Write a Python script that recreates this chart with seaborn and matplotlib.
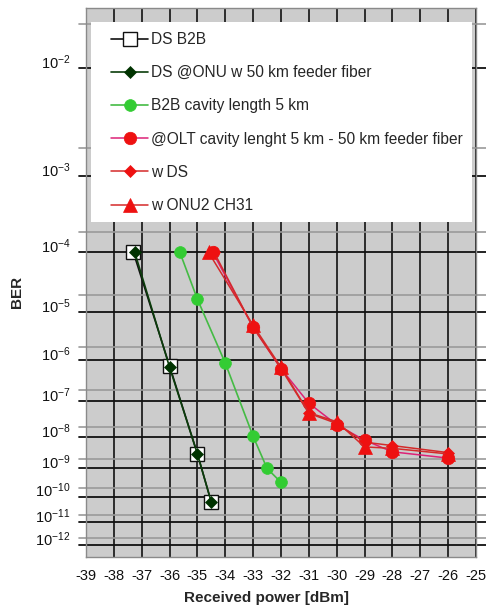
import numpy as np
import pandas as pd
import matplotlib
matplotlib.use("Agg")
import matplotlib.pyplot as plt
import matplotlib.transforms as mtransforms
from matplotlib.patches import Rectangle
import seaborn as sns

# ---------------- data ----------------
ds_b2b_x = [-37.3, -36.0, -35.0, -34.5]
ds_b2b_ber = [1e-4, 7.5e-7, 3.0e-9, 6e-11]

ds_onu_x = [-37.25, -36.0, -35.0, -34.5]
ds_onu_ber = [1e-4, 7.0e-7, 3.0e-9, 6e-11]

b2b_cav_x = [-35.63, -35.0, -34.0, -33.0, -32.5, -32.0]
b2b_cav_ber = [1e-4, 1.7e-5, 8.7e-7, 1.05e-8, 1.0e-9, 3.3e-10]

olt_x = [-34.45, -33.0, -32.0, -31.0, -30.0, -29.0, -28.0, -26.0]
olt_ber = [1e-4, 5.0e-6, 6.5e-7, 9.0e-8, 2.3e-8, 8.0e-9, 3.5e-9, 2.2e-9]

wds_x = [-34.4, -33.0, -32.0, -31.0, -30.0, -29.0, -28.0, -26.0]
wds_ber = [1e-4, 5.0e-6, 6.5e-7, 4.8e-8, 2.5e-8, 7.0e-9, 5.5e-9, 3.3e-9]

onu2_x = [-34.6, -33.0, -32.0, -31.0, -30.0, -29.0, -28.0, -26.0]
onu2_ber = [1e-4, 5.5e-6, 7.0e-7, 5.0e-8, 2.8e-8, 5.0e-9, 4.5e-9, 3.0e-9]

series_labels = [
    "DS B2B",
    "DS @ONU w 50 km feeder fiber",
    "B2B cavity length 5 km",
    "@OLT cavity lenght 5 km - 50 km feeder fiber",
    "w DS",
    "w ONU2 CH31",
]

x_ticks = list(range(-39, -24))
y_major_exp = list(range(2, 13))      # 10^-2 ... 10^-12
y_minor_exp = list(range(2, 13))      # 2x10^-2 ... 2x10^-12
y_minor_mant = 2

x_label = "Received power [dBm]"
y_label = "BER"

# ---------------- style ----------------
sns.set_style("white")
plt.rcParams["font.family"] = ["Liberation Sans", "DejaVu Sans"]
plt.rcParams["mathtext.fontset"] = "custom"
plt.rcParams["mathtext.rm"] = "Liberation Sans"
plt.rcParams["mathtext.it"] = "Liberation Sans:italic"
plt.rcParams["mathtext.bf"] = "Liberation Sans:bold"

fig = plt.figure(figsize=(4.86, 6.09), dpi=100)
ax = fig.add_axes([86 / 486, 1 - 557 / 609, 390 / 486, 549 / 609])
ax.set_facecolor("#cccccc")


def fwd(b):
    b = np.clip(np.asarray(b, dtype=float), 1e-300, 0.999999)
    return -np.log10(-np.log10(b))


def inv(y):
    return 10 ** (-(10 ** (-np.asarray(y, dtype=float))))


ax.set_yscale("function", functions=(fwd, inv))

specs = [
    (ds_b2b_x, ds_b2b_ber, dict(color="#111111", marker="s", markersize=10,
                                markerfacecolor="white", markeredgecolor="#111111",
                                markeredgewidth=1.0, linewidth=1.2)),
    (ds_onu_x, ds_onu_ber, dict(color="#0b3d0b", marker="D", markersize=6,
                                markerfacecolor="#003300", markeredgecolor="#003300",
                                markeredgewidth=0.5, linewidth=1.2)),
    (b2b_cav_x, b2b_cav_ber, dict(color="#44bb44", marker="o", markersize=8.5,
                                  markerfacecolor="#33cc33", markeredgecolor="#33cc33",
                                  markeredgewidth=0.5, linewidth=1.2)),
    (olt_x, olt_ber, dict(color="#dd2277", marker="o", markersize=9,
                          markerfacecolor="#ee1111", markeredgecolor="#ee1111",
                          markeredgewidth=0.5, linewidth=1.1)),
    (wds_x, wds_ber, dict(color="#d42a2a", marker="D", markersize=6.5,
                          markerfacecolor="#ee1111", markeredgecolor="#ee1111",
                          markeredgewidth=0.5, linewidth=1.1)),
    (onu2_x, onu2_ber, dict(color="#d42a2a", marker="^", markersize=9.5,
                            markerfacecolor="#ee1111", markeredgecolor="#ee1111",
                            markeredgewidth=0.5, linewidth=1.1)),
]

for (xs, ys, kw), lab in zip(specs, series_labels):
    df = pd.DataFrame({"x": xs, "ber": ys})
    sns.lineplot(data=df, x="x", y="ber", ax=ax, sort=False, estimator=None,
                 label=lab, zorder=4, **kw)

ax.set_xlim(-39, -25)
ax.set_ylim(inv(-1.0986), inv(-0.2037))

# vertical grid
ax.set_xticks(x_ticks)
ax.set_xticklabels([str(v) for v in x_ticks])
ax.xaxis.grid(True, color="#111111", linewidth=1.2)
ax.set_axisbelow(True)

# horizontal grid lines extending beyond the frame
for n in y_minor_exp:
    ax.axhline(y_minor_mant * 10.0 ** (-n), xmin=-0.018, xmax=1.03, color="#9a9a9a",
               linewidth=1.2, clip_on=False, zorder=1)
for n in y_major_exp:
    ax.axhline(10.0 ** (-n), xmin=-0.018, xmax=1.03, color="#111111",
               linewidth=1.3, clip_on=False, zorder=1.1)

ax.set_yticks([10.0 ** (-n) for n in y_major_exp])
ax.set_yticklabels([r"$10^{-%d}$" % n for n in y_major_exp])
ax.yaxis.set_minor_locator(matplotlib.ticker.NullLocator())
ax.tick_params(axis="y", length=0, pad=11, labelsize=10.5, colors="#111111")
ax.tick_params(axis="x", length=0, pad=9, labelsize=10.5, colors="#111111")
offset = mtransforms.ScaledTranslation(0, 7 / 100, fig.dpi_scale_trans)
for lbl in ax.get_yticklabels():
    lbl.set_transform(lbl.get_transform() + offset)

for sp in ax.spines.values():
    sp.set_color("#8a8a8a")
    sp.set_linewidth(1.0)
    sp.set_zorder(2)

ax.set_xlabel(x_label, fontsize=11, fontweight="bold")
ax.set_ylabel(y_label, fontsize=11, fontweight="bold")
ax.xaxis.set_label_coords((266 - 86) / 390, -0.062)
ax.yaxis.set_label_coords(-0.158, 0.483)

# legend background
ax.add_patch(Rectangle((5 / 390, (557 - 222) / 549), (471.7 - 91) / 390, 200 / 549,
                       transform=ax.transAxes, facecolor="white", edgecolor="none",
                       zorder=3))
handles, labs = ax.get_legend_handles_labels()
leg = ax.legend(handles, labs, loc="upper left",
                bbox_to_anchor=((111 - 86) / 390, (557 - 32) / 549),
                frameon=False, borderpad=0, borderaxespad=0, fontsize=11.2,
                handlelength=2.4, handletextpad=0.2, labelspacing=1.17)
leg.set_zorder(5)

fig.savefig("out.png", dpi=100)
